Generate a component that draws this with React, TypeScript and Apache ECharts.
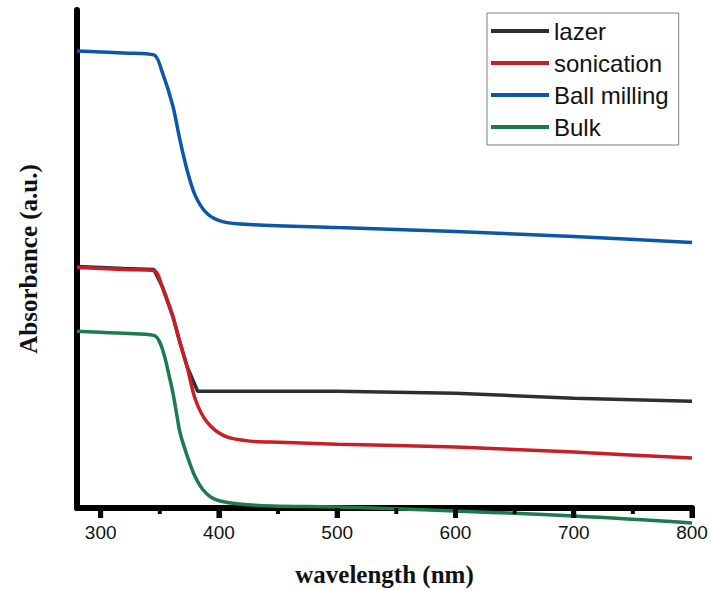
import React, { useEffect, useRef } from "react";
import * as echarts from "echarts";

// wavelength (nm) / absorbance (a.u., arbitrary units)
const lazerX = [280, 300, 320, 345, 352, 361, 367, 373, 382, 400, 500, 600, 700, 800];
const lazerY = [2.42, 2.41, 2.40, 2.39, 2.22, 1.92, 1.66, 1.42, 1.17, 1.17, 1.17, 1.15, 1.10, 1.07];

const sonicationX = [280, 300, 320, 345, 352, 361, 367, 373, 380, 390, 405, 426, 451, 500, 600, 700, 800];
const sonicationY = [2.41, 2.40, 2.39, 2.38, 2.22, 1.92, 1.66, 1.42, 1.09, 0.86, 0.72, 0.67, 0.66, 0.64, 0.61, 0.56, 0.50];

const ballX = [280, 300, 320, 345, 352, 361, 367, 373, 380, 390, 403, 426, 500, 600, 700, 800];
const ballY = [4.58, 4.57, 4.56, 4.54, 4.37, 4.03, 3.69, 3.39, 3.13, 2.95, 2.87, 2.84, 2.81, 2.77, 2.72, 2.66];

const bulkX = [280, 300, 320, 345, 350, 354, 358, 361, 364, 367, 371, 375, 380, 386, 393, 401, 417, 445, 500, 600, 700, 800];
const bulkY = [1.77, 1.76, 1.75, 1.73, 1.66, 1.52, 1.32, 1.16, 0.96, 0.76, 0.60, 0.46, 0.31, 0.19, 0.11, 0.07, 0.04, 0.02, 0.01, -0.03, -0.08, -0.15];

const majorTicks = [300, 400, 500, 600, 700, 800];
const minorTicks = [350, 450, 550, 650, 750];

const seriesNames = ["lazer", "sonication", "Ball milling", "Bulk"];
const seriesColors = ["#2c3035", "#c81e2a", "#0c58a6", "#1d7a4b"];

const zip = (xs: number[], ys: number[]) => xs.map((x, i) => [x, ys[i]]);

export default function App() {
  const ref = useRef<HTMLDivElement>(null);
  useEffect(() => {
    document.body.style.margin = "0";
    if (!ref.current) return;
    const chart = echarts.init(ref.current, undefined, { renderer: "svg" });
    const datasets = [
      zip(lazerX, lazerY),
      zip(sonicationX, sonicationY),
      zip(ballX, ballY),
      zip(bulkX, bulkY),
    ];
    const smooths = [false, 0.3, 0.3, 0.4];
    chart.setOption({
      animation: false,
      grid: { left: 77, right: 19, top: 10, bottom: 82, outerBoundsMode: "none", containLabel: false },
      legend: {
        orient: "vertical",
        left: 487,
        top: 13,
        padding: [6, 10, 6, 4],
        icon: "rect",
        itemWidth: 58,
        itemHeight: 4,
        itemGap: 8,
        itemTextGap: 8,
        borderColor: "#7f7f7f",
        borderWidth: 1,
        textStyle: {
          fontFamily: "Liberation Sans",
          fontSize: 24,
          lineHeight: 24,
          color: "#111",
        },
        data: seriesNames,
      },
      xAxis: {
        type: "value",
        min: 280,
        max: 800,
        name: "wavelength (nm)",
        nameLocation: "middle",
        nameGap: 54,
        nameMoveOverlap: false,
        nameTextStyle: {
          fontFamily: "Liberation Serif",
          fontWeight: "bold",
          fontSize: 25,
          color: "#111",
        },
        axisLine: { show: true, lineStyle: { color: "#000", width: 6 } },
        axisTick: {
          show: true,
          customValues: majorTicks,
          length: 10,
          lineStyle: { color: "#0a0a0a", width: 5 },
        },
        axisLabel: {
          show: true,
          customValues: majorTicks,
          margin: 15,
          fontFamily: "Liberation Sans",
          fontSize: 19,
          color: "#111",
        },
        splitLine: { show: false },
      },
      yAxis: {
        type: "value",
        min: 0,
        max: 4.99,
        name: "Absorbance (a.u.)",
        nameLocation: "middle",
        nameGap: 36,
        nameMoveOverlap: false,
        nameTextStyle: {
          fontFamily: "Liberation Serif",
          fontWeight: "bold",
          fontSize: 25,
          color: "#111",
        },
        axisLine: { show: true, lineStyle: { color: "#000", width: 6 } },
        axisTick: { show: false },
        axisLabel: { show: false },
        splitLine: { show: false },
      },
      series: seriesNames.map((name, i) => ({
        name,
        type: "line",
        data: datasets[i],
        smooth: smooths[i],
        symbol: "none",
        clip: false,
        color: seriesColors[i],
        lineStyle: { color: seriesColors[i], width: 3.5 },
      })),
    });
    // tick marks placed through the x axis scale
    const tickEls: any[] = [];
    const addTicks = (vals: number[], len: number, w: number) => {
      vals.forEach((v) => {
        const p = chart.convertToPixel({ xAxisIndex: 0, yAxisIndex: 0 }, [v, 0]) as number[];
        if (!p) return;
        tickEls.push({
          type: "rect",
          z: 100,
          silent: true,
          shape: { x: p[0] - w / 2, y: p[1], width: w, height: len },
          style: { fill: "#0a0a0a" },
        });
      });
    };
    addTicks(majorTicks, 10, 5);
    addTicks(minorTicks, 6, 4);
    chart.setOption({ graphic: { elements: tickEls } });
    return () => chart.dispose();
  }, []);
  return <div ref={ref} style={{ width: 711, height: 590 }} />;
}
